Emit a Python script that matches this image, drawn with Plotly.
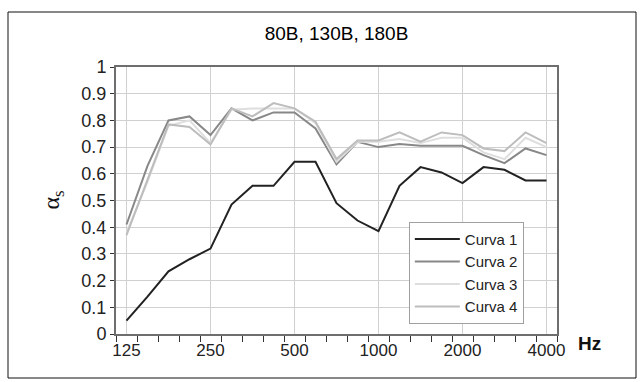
import plotly.graph_objects as go

# Quarter-octave frequency bands (Hz)
bands = [125, 149, 177, 210, 250, 297, 354, 420, 500, 595, 707,
         841, 1000, 1189, 1414, 1682, 2000, 2378, 2828, 3364, 4000]
labeled_bands = [125, 250, 500, 1000, 2000, 4000]

# Sound absorption coefficient per band
curva_1 = [0.05, 0.14, 0.235, 0.28, 0.32, 0.485, 0.555, 0.555, 0.645, 0.645, 0.49,
           0.425, 0.385, 0.555, 0.625, 0.605, 0.565, 0.625, 0.615, 0.575, 0.575]
curva_2 = [0.41, 0.63, 0.80, 0.815, 0.745, 0.845, 0.80, 0.83, 0.83, 0.77, 0.635,
           0.72, 0.70, 0.712, 0.705, 0.705, 0.705, 0.67, 0.64, 0.695, 0.67]
curva_3 = [0.38, 0.57, 0.78, 0.80, 0.715, 0.84, 0.845, 0.845, 0.845, 0.79, 0.645,
           0.72, 0.72, 0.73, 0.715, 0.735, 0.735, 0.68, 0.655, 0.735, 0.70]
curva_4 = [0.37, 0.58, 0.785, 0.775, 0.71, 0.845, 0.815, 0.865, 0.845, 0.795, 0.655,
           0.725, 0.725, 0.755, 0.72, 0.755, 0.745, 0.695, 0.685, 0.755, 0.715]

series = [("Curva 1", curva_1, "#222222"),
          ("Curva 2", curva_2, "#888888"),
          ("Curva 3", curva_3, "#dedede"),
          ("Curva 4", curva_4, "#bdbdbd")]

x = list(range(len(bands)))
tickvals = [i for i, b in enumerate(bands) if b in labeled_bands]
ticktext = [str(bands[i]) for i in tickvals]

FONT = "Liberation Sans, Arial, sans-serif"

fig = go.Figure()
for name, values, color in series:
    fig.add_trace(go.Scatter(x=x, y=values, mode="lines", name=name,
                             line=dict(color=color, width=2)))

fig.update_layout(
    width=642, height=382,
    margin=dict(l=116, r=85, t=67, b=48),
    paper_bgcolor="white", plot_bgcolor="white",
    font=dict(family=FONT, size=17, color="#222222"),
    title=dict(text="80B, 130B, 180B", x=(116 + 557) / 2 / 642, xanchor="center",
               y=1 - 33 / 382, yanchor="middle",
               font=dict(family=FONT, size=19, color="#000000")),
    showlegend=True,
    legend=dict(x=0.664, y=0.42, xanchor="left", yanchor="top",
                bgcolor="white", bordercolor="#a0a0a0", borderwidth=1,
                font=dict(family=FONT, size=15, color="#222222"),
                itemwidth=45, tracegroupgap=0),
)

fig.update_xaxes(
    range=[-0.5, len(bands) - 0.5],
    tickmode="array", tickvals=tickvals, ticktext=ticktext,
    ticks="", showgrid=True, gridcolor="#d0d0d0", gridwidth=1,
    showline=True, linecolor="#6e6e6e", linewidth=2, mirror=True,
    zeroline=False,
    minor=dict(tickvals=[i - 0.5 for i in range(len(bands) + 1)],
               ticks="outside", ticklen=6, tickcolor="#333333", tickwidth=1,
               showgrid=False),
    tickfont=dict(family=FONT, size=17, color="#222222"),
)
fig.update_yaxes(
    range=[0, 1], tickmode="linear", tick0=0, dtick=0.1,
    ticks="outside", ticklen=4, tickcolor="#333333",
    showgrid=True, gridcolor="#d0d0d0", gridwidth=1,
    showline=True, linecolor="#6e6e6e", linewidth=2, mirror=True,
    zeroline=False,
    tickfont=dict(family=FONT, size=18, color="#222222"),
)

# Axis captions
fig.add_annotation(text="α<sub>s</sub>", xref="paper", yref="paper",
                   x=(35 - 116) / 441, y=0.5, textangle=-90, showarrow=False,
                   font=dict(family="Liberation Serif, serif", size=24, color="#111111"))
fig.add_annotation(text="<b>Hz</b>", xref="paper", yref="paper",
                   x=(603 - 116) / 441, y=(334 - 356) / 267, showarrow=False,
                   font=dict(family=FONT, size=19, color="#111111"))

# Outer frame around the whole chart
fig.add_shape(type="rect", xref="paper", yref="paper",
              x0=(8 - 116) / 441, x1=(636 - 116) / 441,
              y0=(334 - 378) / 267, y1=(334 - 12) / 267,
              line=dict(color="#111111", width=1), layer="below")

fig.write_html("out.html")
